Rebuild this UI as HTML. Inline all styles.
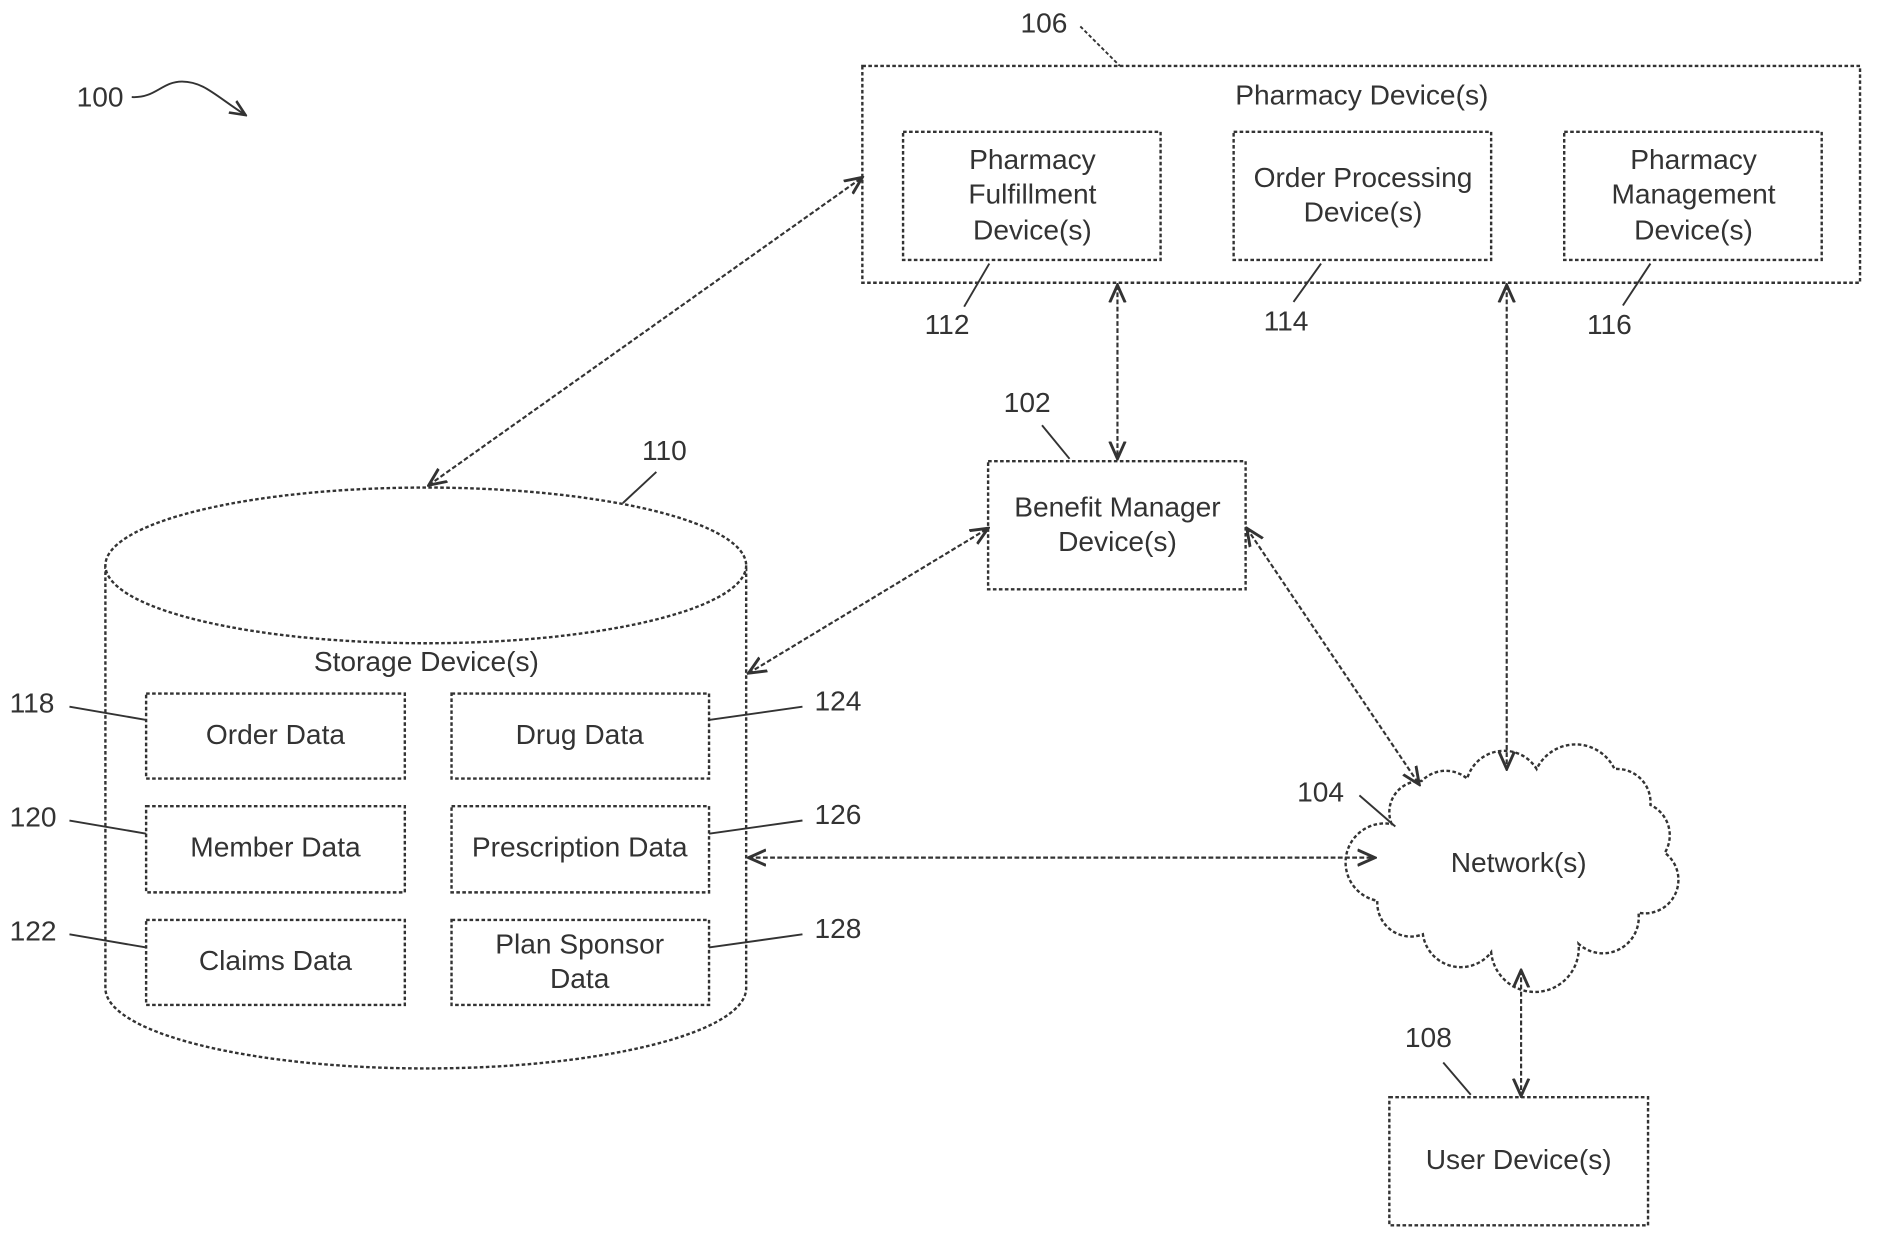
<!DOCTYPE html>
<html><head><meta charset="utf-8"><style>
html,body{margin:0;padding:0;background:#fff;width:1878px;height:1235px;overflow:hidden}
svg{display:block}
text{font-family:"Liberation Sans",sans-serif;fill:#333;font-size:23.5px}
.b{fill:#fff;stroke:#333;stroke-width:2;stroke-dasharray:3 2}
.l{fill:none;stroke:#333;stroke-width:1.8;stroke-dasharray:4 2}
.c{fill:none;stroke:#333;stroke-width:1.6}
</style></head><body>
<svg width="1878" height="1235" viewBox="0 0 1568 1031" xmlns="http://www.w3.org/2000/svg">
<defs>
<marker id="a" viewBox="0 0 10 10" refX="9" refY="5" markerWidth="9" markerHeight="9" orient="auto-start-reverse"><path d="M0,1 L9,5 L0,9" fill="none" stroke="#333" stroke-width="1.5"/></marker>
</defs>
<!-- 100 -->
<text x="64" y="89">100</text>
<path class="c" d="M110,81 C130,82 135,68 152,68 C170,68 180,80 205,96" marker-end="url(#a)"/>
<!-- Pharmacy -->
<rect class="b" x="720" y="55" width="833" height="181"/>
<text x="1137" y="87" text-anchor="middle">Pharmacy Device(s)</text>
<text x="852" y="27">106</text>
<path class="c" d="M902,22 L935,55" stroke-dasharray="3 2"/>
<rect class="b" x="754" y="110" width="215" height="107"/>
<text x="862" y="141" text-anchor="middle">Pharmacy</text>
<text x="862" y="170" text-anchor="middle">Fulfillment</text>
<text x="862" y="200" text-anchor="middle">Device(s)</text>
<rect class="b" x="1030" y="110" width="215" height="107"/>
<text x="1138" y="156" text-anchor="middle">Order Processing</text>
<text x="1138" y="185" text-anchor="middle">Device(s)</text>
<rect class="b" x="1306" y="110" width="215" height="107"/>
<text x="1414" y="141" text-anchor="middle">Pharmacy</text>
<text x="1414" y="170" text-anchor="middle">Management</text>
<text x="1414" y="200" text-anchor="middle">Device(s)</text>
<text x="772" y="279">112</text><path class="c" d="M826,220 L805,256"/>
<text x="1055" y="276">114</text><path class="c" d="M1103,220 L1080,252"/>
<text x="1325" y="279">116</text><path class="c" d="M1378,220 L1355,255"/>
<!-- Benefit -->
<rect class="b" x="825" y="385" width="215" height="107"/>
<text x="933" y="431" text-anchor="middle">Benefit Manager</text>
<text x="933" y="460" text-anchor="middle">Device(s)</text>
<text x="838" y="344">102</text><path class="c" d="M870,355 L893,383"/>
<!-- Storage cylinder -->
<path class="b" d="M88,472 L88,825 A267.5,67 0 0 0 623,825 L623,472"/>
<ellipse class="b" cx="355.5" cy="472" rx="267.5" ry="65"/>
<text x="536" y="384">110</text><path class="c" d="M548,394 L520,420"/>
<text x="356" y="560" text-anchor="middle">Storage Device(s)</text>
<rect class="b" x="122" y="579" width="216" height="71"/><text x="230" y="621" text-anchor="middle">Order Data</text>
<rect class="b" x="377" y="579" width="215" height="71"/><text x="484" y="621" text-anchor="middle">Drug Data</text>
<rect class="b" x="122" y="673" width="216" height="72"/><text x="230" y="715" text-anchor="middle">Member Data</text>
<rect class="b" x="377" y="673" width="215" height="72"/><text x="484" y="715" text-anchor="middle">Prescription Data</text>
<rect class="b" x="122" y="768" width="216" height="71"/><text x="230" y="810" text-anchor="middle">Claims Data</text>
<rect class="b" x="377" y="768" width="215" height="71"/><text x="484" y="796" text-anchor="middle">Plan Sponsor</text><text x="484" y="825" text-anchor="middle">Data</text>
<text x="8" y="595">118</text><path class="c" d="M58,590 L122,601"/>
<text x="8" y="690">120</text><path class="c" d="M58,685 L122,696"/>
<text x="8" y="785">122</text><path class="c" d="M58,780 L122,791"/>
<text x="680" y="593">124</text><path class="c" d="M670,590 L592,601"/>
<text x="680" y="688">126</text><path class="c" d="M670,685 L592,696"/>
<text x="680" y="783">128</text><path class="c" d="M670,780 L592,791"/>
<!-- Network cloud -->
<path class="b" d="M1162,688 A26,26 0 0 1 1187,652 A28,28 0 0 1 1225,650 A32,32 0 0 1 1283,642 A36,36 0 0 1 1348,642 A28,28 0 0 1 1378,672 A28,28 0 0 1 1390,712 A28,28 0 0 1 1368,762 A30,30 0 0 1 1318,788 A36,36 0 0 1 1245,795 A32,32 0 0 1 1188,780 A28,28 0 0 1 1150,752 A24,24 0 0 1 1162,688 Z"/>
<text x="1268" y="728" text-anchor="middle">Network(s)</text>
<text x="1083" y="669">104</text><path class="c" d="M1135,664 L1165,690"/>
<!-- User -->
<rect class="b" x="1160" y="916" width="216" height="107"/>
<text x="1268" y="976" text-anchor="middle">User Device(s)</text>
<text x="1173" y="874">108</text><path class="c" d="M1205,887 L1228,914"/>
<!-- connectors -->
<line class="l" x1="358" y1="405" x2="720" y2="148" marker-start="url(#a)" marker-end="url(#a)"/>
<line class="l" x1="933" y1="238" x2="933" y2="383" marker-start="url(#a)" marker-end="url(#a)"/>
<line class="l" x1="1258" y1="238" x2="1258" y2="642" marker-start="url(#a)" marker-end="url(#a)"/>
<line class="l" x1="625" y1="562" x2="825" y2="441" marker-start="url(#a)" marker-end="url(#a)"/>
<line class="l" x1="1041" y1="441" x2="1185" y2="655" marker-start="url(#a)" marker-end="url(#a)"/>
<line class="l" x1="625" y1="716" x2="1148" y2="716" marker-start="url(#a)" marker-end="url(#a)"/>
<line class="l" x1="1270" y1="810" x2="1270" y2="915" marker-start="url(#a)" marker-end="url(#a)"/>
</svg>
</body></html>
